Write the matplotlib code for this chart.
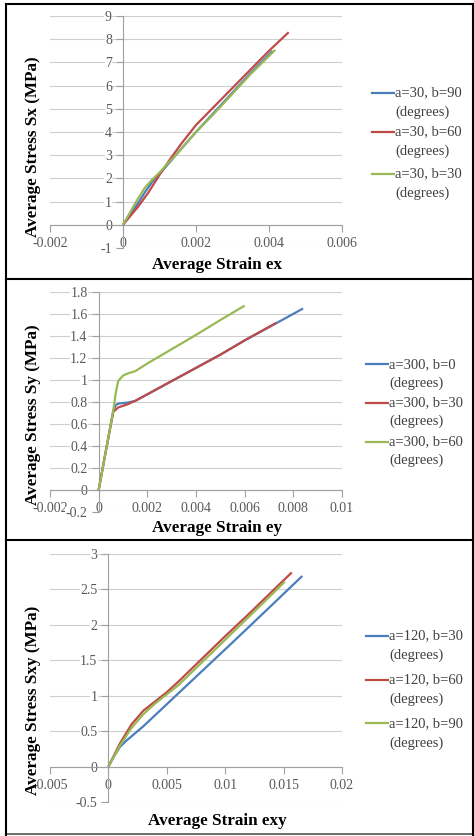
import matplotlib
matplotlib.use('Agg')
import matplotlib.pyplot as plt
from matplotlib.lines import Line2D

plt.rcParams['font.family'] = ['Liberation Serif', 'DejaVu Serif']

# ---- data ----
# panel 1: stress Sx vs strain ex
ex_b90 = [0, 0.0002, 0.0004, 0.0006, 0.0008, 0.001, 0.0012, 0.0015, 0.002, 0.0025, 0.003, 0.0035, 0.0041]
sx_b90 = [0, 0.45, 0.9, 1.4, 1.85, 2.2, 2.55, 3.1, 4.0, 4.85, 5.7, 6.55, 7.5]
ex_b60 = [0, 0.0002, 0.0004, 0.0007, 0.001, 0.0013, 0.0016, 0.002, 0.0025, 0.003, 0.0035, 0.004, 0.00454]
sx_b60 = [0, 0.38, 0.75, 1.4, 2.15, 2.85, 3.5, 4.3, 5.1, 5.9, 6.7, 7.5, 8.3]
ex_b30 = [0, 0.0002, 0.0004, 0.0006, 0.0008, 0.001, 0.0012, 0.0015, 0.002, 0.0025, 0.003, 0.0035, 0.00417]
sx_b30 = [0, 0.55, 1.1, 1.6, 1.95, 2.25, 2.6, 3.1, 4.0, 4.8, 5.65, 6.5, 7.54]

# panel 2: stress Sy vs strain ey
ey_b0 = [0, 0.0003, 0.0006, 0.0007, 0.0008, 0.001, 0.0012, 0.0015, 0.002, 0.003, 0.004, 0.005, 0.006, 0.007, 0.0084]
sy_b0 = [0, 0.36, 0.72, 0.77, 0.785, 0.79, 0.795, 0.81, 0.87, 0.99, 1.11, 1.23, 1.36, 1.48, 1.65]
ey_b30 = [0, 0.0003, 0.0006, 0.0008, 0.001, 0.0012, 0.0015, 0.002, 0.003, 0.004, 0.005, 0.006, 0.0073]
sy_b30 = [0, 0.36, 0.71, 0.75, 0.765, 0.78, 0.81, 0.87, 0.99, 1.11, 1.23, 1.36, 1.52]
ey_b60 = [0, 0.0003, 0.0006, 0.0007, 0.0008, 0.001, 0.0012, 0.0015, 0.002, 0.003, 0.004, 0.005, 0.006]
sy_b60 = [0, 0.36, 0.72, 0.88, 0.99, 1.04, 1.06, 1.08, 1.15, 1.28, 1.41, 1.545, 1.676]

# panel 3: stress Sxy vs strain exy
exy_b30 = [0, 0.0005, 0.001, 0.0015, 0.002, 0.003, 0.005, 0.008, 0.011, 0.014, 0.0166]
sxy_b30 = [0, 0.15, 0.28, 0.36, 0.43, 0.57, 0.88, 1.345, 1.81, 2.28, 2.69]
exy_b60 = [0, 0.001, 0.002, 0.003, 0.004, 0.005, 0.006, 0.008, 0.01, 0.012, 0.014, 0.0157]
sxy_b60 = [0, 0.33, 0.6, 0.79, 0.92, 1.05, 1.2, 1.52, 1.84, 2.15, 2.47, 2.74]
exy_b90 = [0, 0.001, 0.002, 0.003, 0.004, 0.005, 0.006, 0.008, 0.01, 0.012, 0.014, 0.0151]
sxy_b90 = [0, 0.3, 0.55, 0.74, 0.89, 1.02, 1.15, 1.47, 1.79, 2.11, 2.43, 2.61]

labels1 = ['a=30, b=90\n(degrees)', 'a=30, b=60\n(degrees)', 'a=30, b=30\n(degrees)']
labels2 = ['a=300, b=0\n(degrees)', 'a=300, b=30\n(degrees)', 'a=300, b=60\n(degrees)']
labels3 = ['a=120, b=30\n(degrees)', 'a=120, b=60\n(degrees)', 'a=120, b=90\n(degrees)']

xticks1 = [-0.002, 0, 0.002, 0.004, 0.006]
xlabs1 = ['-0.002', '0', '0.002', '0.004', '0.006']
yticks1 = [-1, 0, 1, 2, 3, 4, 5, 6, 7, 8, 9]
ylabs1 = ['-1', '0', '1', '2', '3', '4', '5', '6', '7', '8', '9']
xticks2 = [-0.002, 0, 0.002, 0.004, 0.006, 0.008, 0.01]
xlabs2 = ['-0.002', '0', '0.002', '0.004', '0.006', '0.008', '0.01']
yticks2 = [-0.2, 0, 0.2, 0.4, 0.6, 0.8, 1.0, 1.2, 1.4, 1.6, 1.8]
ylabs2 = ['-0.2', '0', '0.2', '0.4', '0.6', '0.8', '1', '1.2', '1.4', '1.6', '1.8']
xticks3 = [-0.005, 0, 0.005, 0.01, 0.015, 0.02]
xlabs3 = ['-0.005', '0', '0.005', '0.01', '0.015', '0.02']
yticks3 = [-0.5, 0, 0.5, 1, 1.5, 2, 2.5, 3]
ylabs3 = ['-0.5', '0', '0.5', '1', '1.5', '2', '2.5', '3']

colors = ['#4A7EBB', '#BE4B48', '#98B954']

W, H = 474, 836
fig = plt.figure(figsize=(W / 100, H / 100), dpi=100)


def fx(px):
    return px / W


def fy(py):
    return 1 - py / H


def make_panel(box, series, labels, xt, xl, yt, yl, xtitle, ytitle, tpos, leg):
    left, top, right, bottom = box
    ax = fig.add_axes([fx(left), fy(bottom), (right - left) / W, (bottom - top) / H])
    ax.set_axisbelow(True)
    for (x, y), c, lab in zip(series, colors, labels):
        ax.plot(x, y, color=c, lw=1.6, zorder=3, solid_capstyle='butt')
    ax.set_xlim(xt[0], xt[-1])
    ax.set_ylim(yt[0], yt[-1])
    ax.set_xticks(xt, xl)
    ax.set_yticks(yt, yl)
    for s in ('top', 'right'):
        ax.spines[s].set_visible(False)
    # axes cross at zero, Excel style
    ax.spines['left'].set_position(('data', 0))
    ax.spines['bottom'].set_position(('data', 0))
    for s in ('left', 'bottom'):
        ax.spines[s].set_color('#a0a0a0')
        ax.spines[s].set_linewidth(0.8)
    ax.yaxis.grid(True, color='#cfcfcf', lw=0.8)
    ax.tick_params(axis='x', direction='out', length=5, width=0.8, color='#a0a0a0',
                   pad=4, labelsize=10, labelcolor='#595959')
    ax.tick_params(axis='y', direction='out', length=5, width=0.8, color='#a0a0a0',
                   pad=3, labelsize=10, labelcolor='#595959')
    for t in ax.get_yticklabels() + ax.get_xticklabels():
        t.set_bbox(dict(facecolor='white', edgecolor='none', pad=0.3))
    # axis titles
    fig.text(fx(217), fy(tpos[0]), xtitle, ha='center', va='center',
             fontsize=12.3, fontweight='bold')
    fig.text(fx(33), fy(tpos[1]), ytitle, ha='center', va='center',
             fontsize=12.3, fontweight='bold', rotation=90)
    # legend: line next to first text line
    lx0, lx1, ys, dy = leg
    for c, lab, yy in zip(colors, labels, ys):
        fig.add_artist(Line2D([fx(lx0), fx(lx1)], [fy(yy), fy(yy)], color=c, lw=1.6,
                              transform=fig.transFigure))
        first, second = lab.split('\n')
        fig.text(fx(lx1 + 1), fy(yy), first, ha='left', va='center',
                 fontsize=10.5, color='#404040')
        fig.text(fx(lx1 + 1), fy(yy + dy), second, ha='left', va='center',
                 fontsize=10.5, color='#404040')
    return ax


make_panel((50, 16, 342, 248),
           [(ex_b90, sx_b90), (ex_b60, sx_b60), (ex_b30, sx_b30)], labels1,
           xticks1, xlabs1, yticks1, ylabs1,
           'Average Strain ex', 'Average Stress Sx (MPa)', (265, 147),
           (372, 394, [92.5, 132, 173.5], 19.5))
make_panel((50, 292, 342, 512),
           [(ey_b0, sy_b0), (ey_b30, sy_b30), (ey_b60, sy_b60)], labels2,
           xticks2, xlabs2, yticks2, ylabs2,
           'Average Strain ey', 'Average Stress Sy (MPa)', (528, 415),
           (366, 388, [364.3, 403, 441.7], 18.5))
make_panel((50, 554, 342, 802),
           [(exy_b30, sxy_b30), (exy_b60, sxy_b60), (exy_b90, sxy_b90)], labels3,
           xticks3, xlabs3, yticks3, ylabs3,
           'Average Strain exy', 'Average Stress Sxy (MPa)', (821, 700),
           (366, 388, [636, 680, 723.3], 19.7))

# table cell borders
for yy in (4, 279, 540):
    fig.add_artist(Line2D([fx(6), fx(474)], [fy(yy), fy(yy)], color='black', lw=1.5,
                          transform=fig.transFigure))
fig.add_artist(Line2D([fx(6), fx(474)], [fy(834), fy(834)], color='#555555', lw=1.2,
                      transform=fig.transFigure))
fig.add_artist(Line2D([fx(6), fx(6)], [fy(4), fy(835)], color='black', lw=1.5,
                      transform=fig.transFigure))
fig.add_artist(Line2D([fx(473), fx(473)], [fy(4), fy(835)], color='black', lw=1.5,
                      transform=fig.transFigure))

fig.savefig('out.png', dpi=100)
